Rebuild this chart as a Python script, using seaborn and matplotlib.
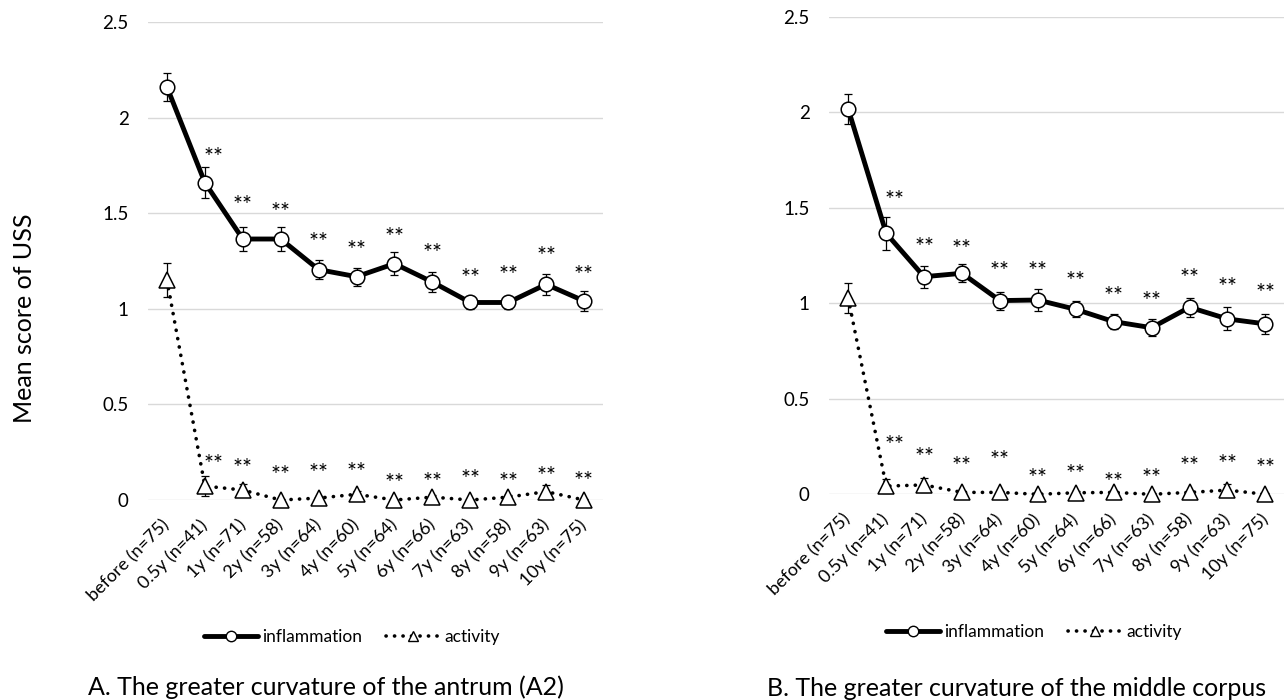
import numpy as np
import pandas as pd
import matplotlib
matplotlib.use("Agg")
import matplotlib.pyplot as plt
import matplotlib.transforms as mtransforms
from matplotlib.lines import Line2D
import seaborn as sns

# ---------------- data ----------------
categories = ["before (n=75)", "0.5y (n=41)", "1y (n=71)", "2y (n=58)", "3y (n=64)",
              "4y (n=60)", "5y (n=64)", "6y (n=66)", "7y (n=63)", "8y (n=58)",
              "9y (n=63)", "10y (n=75)"]

A_inflam = [2.16, 1.66, 1.365, 1.365, 1.205, 1.168, 1.236, 1.14, 1.033, 1.033, 1.128, 1.041]
A_inflam_se = [0.072, 0.08, 0.065, 0.065, 0.05, 0.047, 0.06, 0.05, 0.035, 0.035, 0.056, 0.05]
A_act = [1.15, 0.073, 0.052, 0.0, 0.01, 0.03, 0.0, 0.015, 0.0, 0.015, 0.044, 0.0]
A_act_se = [0.09, 0.053, 0.032, 0.005, 0.01, 0.015, 0.005, 0.012, 0.005, 0.012, 0.034, 0.005]

B_inflam = [2.016, 1.366, 1.139, 1.157, 1.014, 1.017, 0.968, 0.904, 0.872, 0.979, 0.918, 0.892]
B_inflam_se = [0.078, 0.085, 0.058, 0.048, 0.047, 0.057, 0.042, 0.04, 0.045, 0.05, 0.06, 0.053]
B_act = [1.026, 0.043, 0.049, 0.01, 0.01, 0.0, 0.008, 0.01, 0.0, 0.01, 0.022, 0.0]
B_act_se = [0.078, 0.035, 0.038, 0.008, 0.008, 0.005, 0.008, 0.008, 0.005, 0.008, 0.03, 0.005]

# significance marks ("**") and the heights at which they are printed (data units)
sig_mark = "**"
A_inflam_star_y = [None, 1.82, 1.57, 1.534, 1.372, 1.334, 1.403, 1.318, 1.187, 1.203, 1.299, 1.203]
A_act_star_y = [None, 0.213, 0.192, 0.157, 0.166, 0.174, 0.113, 0.119, 0.134, 0.117, 0.153, 0.127]
B_inflam_star_y = [None, 1.567, 1.319, 1.309, 1.195, 1.192, 1.143, 1.061, 1.035, 1.157, 1.11, 1.078]
B_act_star_y = [None, 0.284, 0.218, 0.171, 0.206, 0.11, 0.132, 0.087, 0.113, 0.171, 0.183, 0.162]

y_ticks = [0, 0.5, 1, 1.5, 2, 2.5]
y_ticklabels = ["0", "0.5", "1", "1.5", "2", "2.5"]
series_names = ["inflammation", "activity"]
y_label = "Mean score of USS"
caption_A = "A. The greater curvature of the antrum (A2)"
caption_B = "B. The greater curvature of the middle corpus"

# ---------------- style ----------------
sns.set_theme(style="white")
plt.rcParams["font.family"] = ["Lato", "DejaVu Sans"]
plt.rcParams["text.color"] = "black"

W, H = 1287, 700
fig = plt.figure(figsize=(W / 100, H / 100), dpi=100)

axA = fig.add_axes([148 / W, 200 / H, 455 / W, 478 / H])
axB = fig.add_axes([829.3 / W, 205.7 / H, 455 / W, 477.6 / H])

idx = np.arange(len(categories))
DOT = (0, (0.05, 2.3))


def draw_panel(ax, inflam, inflam_se, act, act_se, inflam_star, act_star):
    df = pd.DataFrame({"idx": np.concatenate([idx, idx]),
                       "value": np.concatenate([inflam, act]),
                       "series": [series_names[0]] * len(idx) + [series_names[1]] * len(idx)})
    # error bars (behind)
    ax.errorbar(idx, inflam, yerr=inflam_se, fmt="none", ecolor="black",
                elinewidth=0.9, capsize=3, capthick=0.9, zorder=2, clip_on=False)
    ax.errorbar(idx, act, yerr=act_se, fmt="none", ecolor="black",
                elinewidth=0.9, capsize=3, capthick=0.9, zorder=2, clip_on=False)
    # activity: dotted line with triangles
    sns.lineplot(data=df[df.series == series_names[1]], x="idx", y="value", ax=ax,
                 color="black", lw=2.6, marker="^", ms=11, mfc="white", mec="black",
                 mew=1.1, clip_on=False, zorder=3, legend=False, errorbar=None)
    l_act = ax.lines[-1]
    l_act.set_linestyle(DOT)
    l_act.set_dash_capstyle("round")
    # inflammation: thick solid line with circles
    sns.lineplot(data=df[df.series == series_names[0]], x="idx", y="value", ax=ax,
                 color="black", lw=3.5, marker="o", ms=10.5, mfc="white", mec="black",
                 mew=1.1, clip_on=False, zorder=4, legend=False, errorbar=None)

    # significance marks
    trans = mtransforms.offset_copy(ax.transData, fig=fig, x=0, y=-8.5, units="points")
    for stars in (inflam_star, act_star):
        for i, yv in enumerate(stars):
            if yv is None:
                continue
            xs = i + (0.22 if i == 1 else 0.0)
            ax.text(xs, yv, sig_mark, transform=trans, ha="center", va="baseline",
                    fontsize=17, color="black", zorder=5)

    ax.set_xlim(-0.5, len(categories) - 0.5)
    ax.set_ylim(0, 2.5)
    ax.set_yticks(y_ticks)
    ax.set_yticklabels(y_ticklabels, fontsize=13.5)
    ax.set_xticks(idx)
    ax.set_xticklabels(categories, rotation=45, ha="right", va="center",
                       rotation_mode="anchor", fontsize=13)
    ax.tick_params(axis="both", length=0, colors="black")
    ax.tick_params(axis="y", pad=14)
    ax.tick_params(axis="x", pad=16)
    ax.set_xlabel("")
    ax.set_ylabel("")
    ax.grid(axis="y", color="#d9d9d9", lw=1.0)
    ax.grid(axis="x", visible=False)
    for s in ax.spines.values():
        s.set_visible(False)
    ax.set_facecolor("none")


draw_panel(axA, A_inflam, A_inflam_se, A_act, A_act_se, A_inflam_star_y, A_act_star_y)
draw_panel(axB, B_inflam, B_inflam_se, B_act, B_act_se, B_inflam_star_y, B_act_star_y)

# legends
def handles():
    h1 = Line2D([], [], color="black", lw=3.5, marker="o", ms=7.5, mfc="white",
                mec="black", mew=1.0)
    h2 = Line2D([], [], color="black", lw=2.6, marker="^", ms=7.5, mfc="white",
                mec="black", mew=1.0, linestyle=DOT, dash_capstyle="round")
    return [h1, h2]


for cx, cy in ((352 / W, 1 - 637 / H), (1034 / W, 1 - 632 / H)):
    fig.legend(handles(), series_names, loc="center", bbox_to_anchor=(cx, cy),
               ncol=2, frameon=False, fontsize=12.5, handlelength=3.1,
               handletextpad=0.25, columnspacing=1.4, borderpad=0)

# y label and captions
fig.text(25 / W, 1 - 318 / H, y_label, rotation=90, ha="center", va="center", fontsize=18)
fig.text(88 / W, 1 - 695 / H, caption_A, ha="left", va="baseline", fontsize=18)
fig.text(767 / W, 1 - 696 / H, caption_B, ha="left", va="baseline", fontsize=18)

fig.savefig("out.png", dpi=100)
